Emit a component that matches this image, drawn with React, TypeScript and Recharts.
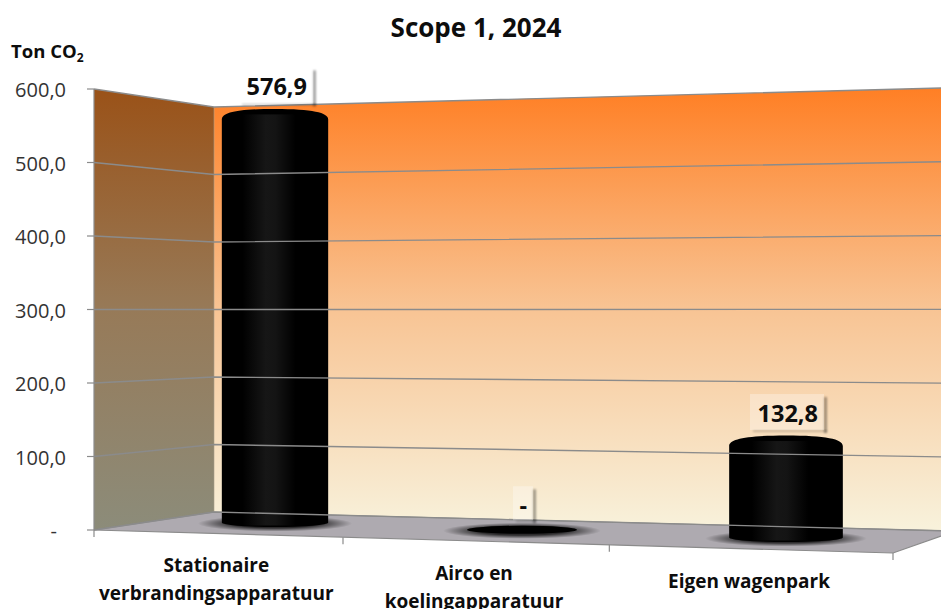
import React from "react";
import { BarChart, Bar, XAxis, YAxis, Customized, LabelList } from "recharts";

const categories = ["Stationaire\nverbrandingsapparatuur", "Airco en\nkoelingapparatuur", "Eigen wagenpark"];
const seriesValues = [576.9, 0, 132.8];
const yTicks = [0, 100, 200, 300, 400, 500, 600];
const rows = categories.map((category, i) => ({ category, value: seriesValues[i] }));

const W = 941, H = 609;
const FONT = "'Open Sans', 'Noto Sans', sans-serif";
const INK = "#0d0d0d";
const LINE = "#8b8b8b";
const plotL = 94, plotR = 893, plotT = 89, plotB = 530;

// oblique view of the plot box: the corner where the side and back walls meet
const cornerX = 214;
const backTop = (x: number) => 107 - (x - cornerX) * 0.0261;
const backBottom = (x: number) => 512 + (x - cornerX) * 0.0257;
const frontEdge = (x: number) => plotB + (x - plotL) * 0.0288;
const uOf = (x: number) => (x - plotL) / (plotR - plotL);
const frontX = (u: number) => plotL + 721 * u + 78 * u * u;

function project(x: number, y: number, width: number) {
  const u = uOf(x + width / 2);
  const d = u - 0.5;
  const cx = 522 + 766.5 * d + 76.5 * d * d;
  const w = width * (0.95 + 0.1 * u);
  const bottom = 527 + (cx - 275) * 0.0294;
  const base = bottom - 4.5;
  const k = 0.954 - 0.02 * u;
  const top = base - (plotB - y) * k;
  return { cx, w, bottom, base, top };
}

function Scene() {
  const ticksX = [0, 1 / 3, 2 / 3, 1].map(frontX);
  return (
    <g>
      <defs>
        <linearGradient id="backWall" gradientUnits="userSpaceOnUse" x1="0" y1="88" x2="0" y2="531">
          <stop offset="0" stopColor="#ff7f24" />
          <stop offset="0.5" stopColor="#f8c494" />
          <stop offset="1" stopColor="#f8f2dc" />
        </linearGradient>
        <linearGradient id="sideWall" gradientUnits="userSpaceOnUse" x1="0" y1="89" x2="0" y2="530">
          <stop offset="0" stopColor="#9a5218" />
          <stop offset="0.5" stopColor="#977a58" />
          <stop offset="1" stopColor="#8c8c7a" />
        </linearGradient>
        <linearGradient id="sheen" x1="0" y1="0" x2="1" y2="0">
          <stop offset="0" stopColor="#000" />
          <stop offset="0.44" stopColor="#161616" />
          <stop offset="0.62" stopColor="#141414" />
          <stop offset="1" stopColor="#000" />
        </linearGradient>
        <radialGradient id="floorShadow">
          <stop offset="0.55" stopColor="#000" stopOpacity="0.75" />
          <stop offset="1" stopColor="#000" stopOpacity="0" />
        </radialGradient>
        <filter id="soft" x="-50%" y="-50%" width="200%" height="200%">
          <feGaussianBlur stdDeviation="1" />
        </filter>
      </defs>
      <polygon points={`${plotL},${plotT} ${cornerX},${backTop(cornerX)} ${cornerX},${backBottom(cornerX)} ${plotL},${plotB}`} fill="url(#sideWall)" />
      <polygon points={`${cornerX},${backTop(cornerX)} ${W},${backTop(W)} ${W},${backBottom(W)} ${cornerX},${backBottom(cornerX)}`} fill="url(#backWall)" />
      <polygon points={`${plotL},${plotB} ${cornerX},${backBottom(cornerX)} ${W},${backBottom(W)} ${W},536 ${plotR},${frontEdge(plotR)}`} fill="#aeaab0" />
      <polyline points={`${plotL},${plotB} ${plotR},${frontEdge(plotR)} ${W},536`} fill="none" stroke={LINE} strokeWidth={1.2} />
      <polyline points={`${plotL},${plotB} ${cornerX},${backBottom(cornerX)} ${W},${backBottom(W)}`} fill="none" stroke={LINE} strokeWidth={1} />
      <line x1={cornerX} y1={backTop(cornerX)} x2={cornerX} y2={backBottom(cornerX)} stroke="#a9a08c" strokeWidth={0.6} />
      {ticksX.map((x) => (
        <line key={x} x1={x} y1={frontEdge(x)} x2={x} y2={frontEdge(x) + 7} stroke={LINE} strokeWidth={1.2} />
      ))}
      <text x={476} y={37} textAnchor="middle" fontFamily={FONT} fontWeight={700} fontSize={26} fill={INK}>Scope 1, 2024</text>
      <text x={11} y={58} fontFamily={FONT} fontWeight={700} fontSize={18.5} fill={INK}>
        Ton CO<tspan fontSize={12} dy={4}>2</tspan>
      </text>
    </g>
  );
}

function YTick(props: any) {
  const { y, payload } = props;
  const v = payload.value;
  const t = (y - plotT) / (plotB - plotT);
  const at = (px: number) => backTop(px) + (backBottom(px) - backTop(px)) * t;
  const label = v === 0 ? "-" : v.toFixed(1).replace(".", ",");
  return (
    <g>
      <line x1={plotL - 7} y1={y} x2={plotL} y2={y} stroke={LINE} strokeWidth={1.2} />
      <polyline points={`${plotL},${y} ${cornerX},${at(cornerX)} ${W},${at(W)}`} fill="none" stroke={LINE} strokeWidth={1.4} />
      <text x={v === 0 ? 57 : 66} y={y + 8} textAnchor="end" fontFamily={FONT} fontSize={20} fill="#333333">{label}</text>
    </g>
  );
}

function XTick(props: any) {
  const { x, payload } = props;
  const u = uOf(x);
  const lines = String(payload.value).split("\n");
  const cx = frontX(u);
  const y0 = 568 + 24 * u;
  return (
    <text textAnchor="middle" fontFamily={FONT} fontWeight={700} fontSize={19} fill={INK}>
      {lines.map((l, i) => (
        <tspan key={l} x={cx} y={y0 + i * 27.5}>{l}</tspan>
      ))}
    </text>
  );
}

function Cylinder(props: any) {
  const { x, y, width } = props;
  const { cx, w, base, top } = project(x, y, width);
  const rx = w / 2;
  const flat = Math.abs(base - top) < 1;
  const cap = `C${cx - rx},${top - 7} ${cx - rx * 0.7},${top - 10.5} ${cx},${top - 10.5} C${cx + rx * 0.7},${top - 10.5} ${cx + rx},${top - 7} ${cx + rx},${top}`;
  return (
    <g>
      <ellipse cx={cx} cy={base + 1} rx={rx + 24} ry={8} fill="url(#floorShadow)" />
      {flat ? (
        <ellipse cx={cx} cy={base} rx={rx} ry={4} fill="#000" />
      ) : (
        <>
          <path d={`M${cx - rx},${top} ${cap} L${cx + rx},${base} A${rx},4.5 0 0 1 ${cx - rx},${base} Z`} fill="#000" />
          <rect x={cx - rx * 0.5 - 6} y={top - 5} width={rx} height={base + 3 - top + 5} fill="url(#sheen)" />
        </>
      )}
    </g>
  );
}

function ValueLabel(props: any) {
  const { x, y, width, value } = props;
  const { cx, top } = project(x, y, width);
  const text = value === 0 ? "-" : Number(value).toFixed(1).replace(".", ",");
  const bw = 13.5 * text.length + 6.5;
  const bh = value === 0 ? 34 : 36;
  const peak = value === 0 ? top - 4 : top - 10.5;
  const by = peak - 5.5 - bh;
  const bx = cx + 1 - bw / 2;
  return (
    <g>
      <rect x={bx + bw} y={by + 3} width={3} height={bh} fill="#000" opacity={0.35} filter="url(#soft)" />
      <rect x={bx + 3} y={by + bh} width={bw} height={2} fill="#000" opacity={0.18} filter="url(#soft)" />
      <rect x={bx} y={by} width={bw} height={bh} fill="#fff" fillOpacity={0.3} />
      <text x={bx + bw - 6} y={by + 28} textAnchor="end" fontFamily={FONT} fontWeight={700} fontSize={23.5} fill={INK}>{text}</text>
    </g>
  );
}

export default function App() {
  return (
    <div style={{ position: "absolute", left: 0, top: 0, width: W, height: H, overflow: "hidden", background: "#fff" }}>
      <BarChart
        width={W}
        height={H}
        data={rows}
        margin={{ top: plotT, right: W - plotR, bottom: 0, left: 0 }}
        barCategoryGap="29.35%"
      >
        <Customized component={Scene} />
        <XAxis dataKey="category" axisLine={false} tickLine={false} height={H - plotB} interval={0} tick={<XTick />} />
        <YAxis width={plotL} domain={[0, 600]} ticks={yTicks} axisLine={{ stroke: LINE, strokeWidth: 1.2 }} tickLine={false} tick={<YTick />} />
        <Bar dataKey="value" isAnimationActive={false} shape={<Cylinder />}>
          <LabelList dataKey="value" content={<ValueLabel />} />
        </Bar>
      </BarChart>
    </div>
  );
}
